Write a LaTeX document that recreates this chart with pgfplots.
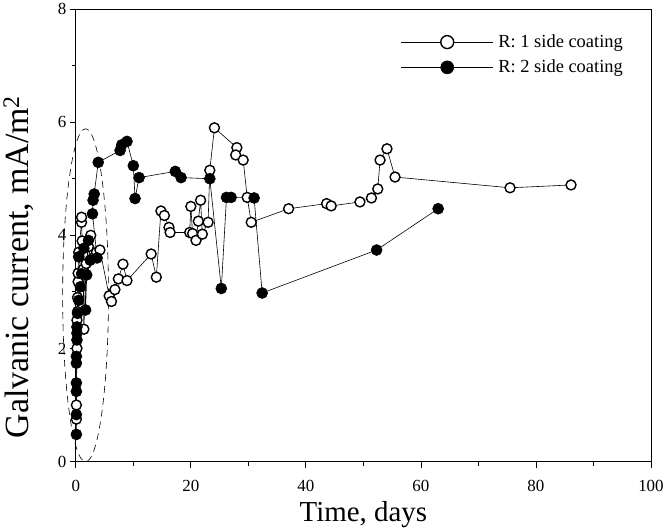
\documentclass[border=0pt]{standalone}
\usepackage{fontspec}
\setmainfont{Liberation Serif}
\usepackage{pgfplots}
\pgfplotsset{compat=1.18}
\begin{document}
\begin{tikzpicture}
\begin{axis}[
  scale only axis, width=577pt, height=454pt,
  xmin=0, xmax=100, ymin=0, ymax=8,
  xtick={0,20,...,100}, ytick={0,2,...,8},
  minor xtick={10,30,50,70,90}, minor ytick={1,3,5,7},
  tick align=outside, tick pos=left,
  major tick length=6pt, minor tick length=4pt,
  every tick/.style={black, line width=0.8pt},
  axis line style={line width=0.8pt},
  /pgf/number format/assume math mode=true,
  tick label style={font=\fontsize{17}{17}\selectfont},
  xticklabel style={yshift=-9pt},
  xlabel={Time, days}, ylabel={Galvanic current, mA/m\textsuperscript{2}},
  xlabel style={font=\fontsize{29}{29}\selectfont, at={(axis description cs:0.5,-0.1167)}, anchor=center},
  ylabel style={font=\fontsize{34}{34}\selectfont, at={(axis description cs:-0.1,0.43)}, anchor=center},
  clip=false,
  legend style={draw=none, fill=none, at={(0.56,0.952)}, anchor=north west,
    font=\fontsize{18.5}{18.5}\selectfont, row sep=7pt},
  legend cell align=left,
  legend image code/.code={\draw[mark repeat=2,mark phase=2, mark size=6.5pt] plot coordinates {(0pt,0pt) (46pt,0pt) (92pt,0pt)};},
]
\addplot[black, line width=0.6pt, mark=*, mark size=5pt,
  mark options={fill=white, draw=black, line width=1.4pt, solid}]
coordinates {
(0.1,0.75)(0.1,1.0)(0.2,2.0)(0.2,2.5)(0.3,2.65)(0.3,2.9)(0.4,3.18)(0.4,3.33)
(0.5,3.7)(1.0,4.23)(1.0,4.32)(1.1,3.9)(1.3,3.4)(1.4,2.34)(1.8,3.5)(2.2,3.8)
(2.6,4.0)(3.0,3.6)(3.6,3.7)(4.2,3.74)(5.8,2.93)(6.2,2.83)(6.8,3.04)(7.4,3.23)
(8.2,3.49)(8.9,3.20)(13.1,3.67)(14.0,3.26)(14.8,4.43)(15.4,4.35)(16.2,4.14)
(16.4,4.05)(19.8,4.05)(20.0,4.51)(20.3,4.03)(20.9,3.91)(21.3,4.25)(21.7,4.62)
(22.0,4.02)(23.0,4.23)(23.3,5.15)(24.1,5.90)(28.0,5.55)(27.8,5.42)(29.1,5.33)
(29.8,4.67)(30.5,4.23)(37.0,4.47)(43.6,4.56)(44.4,4.52)(49.4,4.59)(51.4,4.66)
(52.5,4.82)(52.9,5.33)(54.1,5.53)(55.5,5.03)(75.5,4.84)(86.1,4.89)
};
\addlegendentry{\hspace{3pt}R: 1 side coating}
\addplot[black, line width=0.6pt, mark=*, mark size=5.5pt,
  mark options={fill=black, draw=black, solid}]
coordinates {
(0.1,0.48)(0.1,0.83)(0.1,1.24)(0.1,1.39)(0.1,1.74)(0.1,1.86)(0.2,2.15)(0.2,2.27)
(0.2,2.38)(0.3,2.62)(0.5,2.85)(0.8,3.09)(1.0,3.32)(0.5,3.62)(1.4,3.77)(1.7,2.68)
(1.9,3.3)(2.2,3.91)(2.5,3.56)(3.7,3.6)(2.9,4.38)(3.0,4.62)(3.2,4.73)(3.9,5.29)
(7.7,5.50)(8.0,5.60)(8.9,5.66)(10.0,5.23)(10.3,4.65)(11.0,5.02)(17.3,5.13)
(18.3,5.02)(23.3,5.0)(25.3,3.06)(26.2,4.67)(27.0,4.67)(31.0,4.66)(32.4,2.98)
(52.3,3.74)(63.0,4.47)
};
\addlegendentry{\hspace{3pt}R: 2 side coating}
\draw[dash pattern=on 7pt off 5pt, line width=0.6pt] (axis cs:1.7,2.94) ellipse [x radius=23pt, y radius=167pt];
\end{axis}
\end{tikzpicture}
\end{document}
